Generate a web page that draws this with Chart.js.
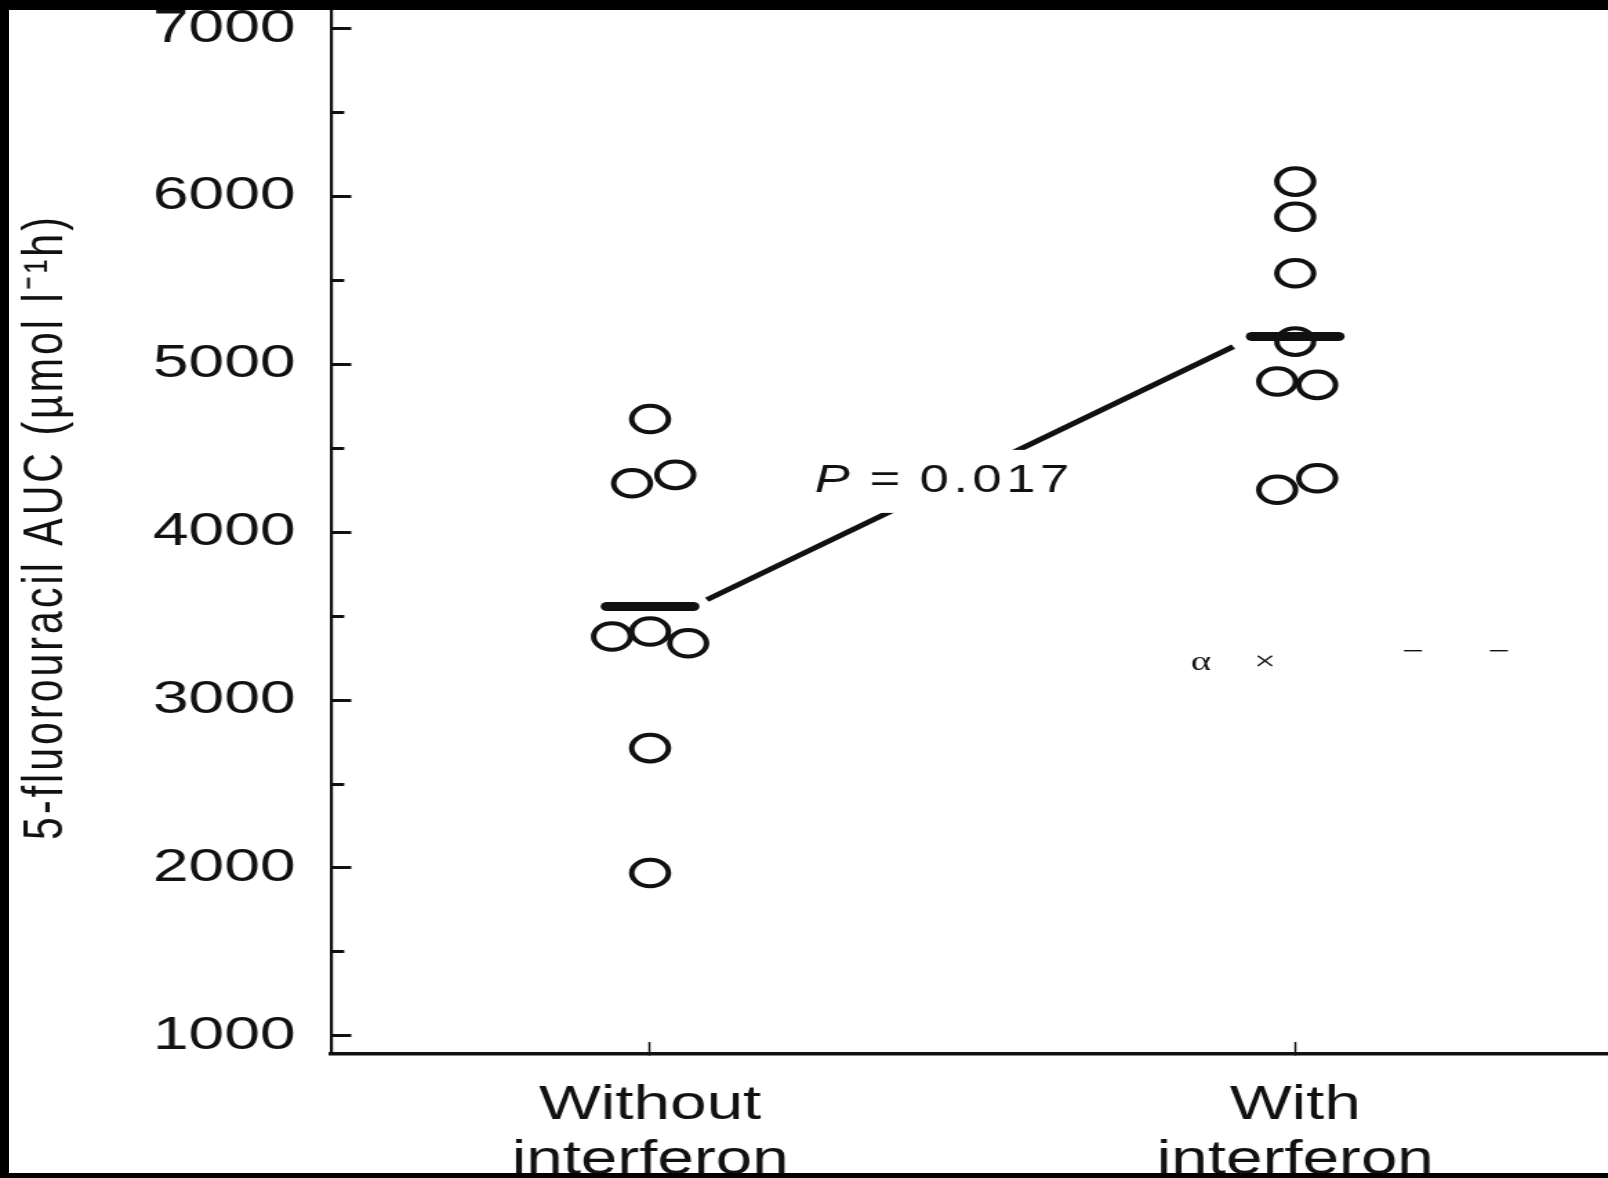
<!DOCTYPE html>
<html>
<head>
<meta charset="utf-8">
<title>5-fluorouracil AUC with and without interferon</title>
<script src="https://cdn.jsdelivr.net/npm/chart.js@4.4.1/dist/chart.umd.min.js"></script>
<style>
  html, body { margin: 0; padding: 0; background: #fff; overflow: hidden; }
  #wrap { position: relative; width: 1608px; height: 1178px; }
  #chart { position: absolute; left: 0; top: 0; }
  .frame { position: absolute; background: #000; }
</style>
</head>
<body>
<div id="wrap">
  <!-- the source figure is stretched sideways, so the canvas is drawn narrow and widened by css -->
  <canvas id="chart" width="1165" height="1178" style="width:1608px;height:1178px"></canvas>
  <div class="frame" style="left:0;top:0;width:1608px;height:10px"></div>
  <div class="frame" style="left:0;top:0;width:9px;height:1178px"></div>
  <div class="frame" style="left:0;top:1173px;width:1608px;height:5px"></div>
</div>
<script>
/* ---- Data ---- */
const categories = [["Without", "interferon"], ["With", "interferon"]];

// 5-FU AUC per patient, µmol l-1 h
const aucWithout = [4675, 4292, 4342, 3379, 3409, 3339, 2714, 1970];
const aucWith    = [6089, 5880, 5543, 5136, 4898, 4878, 4253, 4322];

// sideways spread of touching circles, in category units
const spreadWithout = [0, -0.028, 0.039, -0.059, 0, 0.059, 0, 0];
const spreadWith    = [0, 0, 0, 0, -0.028, 0.034, -0.028, 0.034];

const meanAuc = [3558, 5166];

// line joining the two means, broken by the P label
const linkX = [0.088, 0.904];
const linkY = [3598, 5106];

// y axis: labelled every 1000, unlabelled marks in between
const yTicks = [1000, 1500, 2000, 2500, 3000, 3500, 4000, 4500, 5000, 5500, 6000, 6500, 7000];
const yLabelled = [1000, 2000, 3000, 4000, 5000, 6000, 7000];

const pText = ["P", "\u2009=\u20090.017"];
const pAnchor = { x: 0.456, y: 4300 };

// stray glyphs that sit in the right half of the figure
const strayGlyphs = [
  { t: "\u03B1", x: 0.854, y: 3224 },
  { t: "\u00D7", x: 0.953, y: 3224 },
  { t: "\u2212", x: 1.183, y: 3281 },
  { t: "\u2212", x: 1.316, y: 3281 },
];

const yTitle = "5-fluorouracil AUC (\u00B5mol l\u207B\u00B9h)";

/* ---- Style ---- */
const INK = "#111";
const FONT = '"Liberation Sans", Arial, Helvetica, sans-serif';
const SERIF = '"Liberation Serif", "DejaVu Serif", serif';
const BAR_HALF = 0.067;
const MAJOR_TICK = 14.5, MINOR_TICK = 9.4;

function points(values, spread, cat) {
  return values.map((v, i) => ({ x: cat + spread[i], y: v }));
}

function meanBar(cat) {
  return {
    type: "line",
    showLine: true,
    data: [{ x: cat - BAR_HALF, y: meanAuc[cat] }, { x: cat + BAR_HALF, y: meanAuc[cat] }],
    borderColor: INK,
    borderWidth: 9,
    borderCapStyle: "round",
    pointRadius: 0,
  };
}

function circles(values, spread, cat) {
  return {
    type: "scatter",
    data: points(values, spread, cat),
    pointStyle: "circle",
    pointRadius: 13.3,
    pointBorderWidth: 4,
    pointBorderColor: INK,
    pointBackgroundColor: "rgba(0,0,0,0)",
  };
}

/* ---- Annotations: P label and stray glyphs ---- */
const annotations = {
  id: "annotations",
  beforeDraw(chart) {
    chart.ctx.letterSpacing = "3.05px";  // axis title is drawn before the datasets
  },
  afterDatasetsDraw(chart) {
    const { ctx, scales: { x, y } } = chart;
    const cx = x.getPixelForValue(pAnchor.x);
    const cy = y.getPixelForValue(pAnchor.y);
    const italic = `italic 38px ${FONT}`;
    const upright = `38px ${FONT}`;

    ctx.save();
    ctx.letterSpacing = "3.3px";
    ctx.font = italic;
    const w0 = ctx.measureText(pText[0]).width;
    ctx.font = upright;
    const w1 = ctx.measureText(pText[1]).width;
    const left = cx - (w0 + w1) / 2;
    ctx.fillStyle = "#fff";
    ctx.fillRect(left - 2, cy - 32, w0 + w1 + 4, 63);
    ctx.fillStyle = INK;
    ctx.textBaseline = "middle";
    ctx.textAlign = "left";
    ctx.font = italic;
    ctx.fillText(pText[0], left, cy);
    ctx.font = upright;
    ctx.fillText(pText[1], left + w0, cy);

    ctx.letterSpacing = "0px";
    ctx.font = `28px ${SERIF}`;
    ctx.textAlign = "center";
    strayGlyphs.forEach((g) => {
      ctx.fillText(g.t, x.getPixelForValue(g.x), y.getPixelForValue(g.y));
    });
    ctx.restore();

    chart.ctx.letterSpacing = "0px";     // tick labels come after this
  },
};

new Chart(document.getElementById("chart"), {
  type: "scatter",
  data: {
    datasets: [
      meanBar(0),
      meanBar(1),
      circles(aucWithout, spreadWithout, 0),
      circles(aucWith, spreadWith, 1),
      {
        type: "line",
        showLine: true,
        data: linkX.map((x, i) => ({ x, y: linkY[i] })),
        borderColor: INK,
        borderWidth: 5,
        pointRadius: 0,
      },
    ],
  },
  options: {
    responsive: false,
    animation: false,
    events: [],
    devicePixelRatio: 1,
    layout: { padding: 0, autoPadding: false },
    plugins: { legend: { display: false }, tooltip: { enabled: false } },
    scales: {
      x: {
        type: "linear",
        min: -0.4942,
        max: 1.4848,
        afterBuildTicks: (s) => { s.ticks = categories.map((_, i) => ({ value: i })); },
        afterFit: (s) => { s.height = 124; s.paddingLeft = 0; s.paddingRight = 0; },
        grid: { drawOnChartArea: false, tickLength: -12, tickWidth: 1.5, tickColor: INK },
        border: { color: INK, width: 3.5 },
        ticks: {
          z: 1,
          padding: 36.6,
          autoSkip: false,
          maxRotation: 0,
          color: INK,
          font: { family: FONT, size: 47.5, lineHeight: 1.15 },
          callback: (v) => categories[v] ?? "",
        },
      },
      y: {
        type: "linear",
        min: 891.6,
        max: 7171,
        afterBuildTicks: (s) => { s.ticks = yTicks.map((value) => ({ value })); },
        afterFit: (s) => { s.width = 240; s.paddingTop = 0; s.paddingBottom = 0; },
        grid: {
          drawOnChartArea: false,
          tickLength: -MAJOR_TICK,
          tickWidth: 3,
          tickColor: INK,
          // tick marks are stroked from their inner end, so the short ones start with a gap
          tickBorderDash: (c) => (c.tick && !yLabelled.includes(c.tick.value)
            ? [0, MAJOR_TICK - MINOR_TICK, MINOR_TICK + 2, 100] : []),
        },
        border: { color: INK, width: 2.2 },
        ticks: {
          z: 1,
          autoSkip: false,
          padding: 40.3,
          color: INK,
          font: { family: FONT, size: 46.5 },
          callback: (v) => (yLabelled.includes(v) ? String(v) : ""),
        },
        title: {
          display: true,
          text: yTitle,
          color: INK,
          font: { family: FONT, size: 41, lineHeight: 1.2 },
          padding: { top: 9, bottom: 0 },
        },
      },
    },
  },
  plugins: [annotations],
});
</script>
</body>
</html>
